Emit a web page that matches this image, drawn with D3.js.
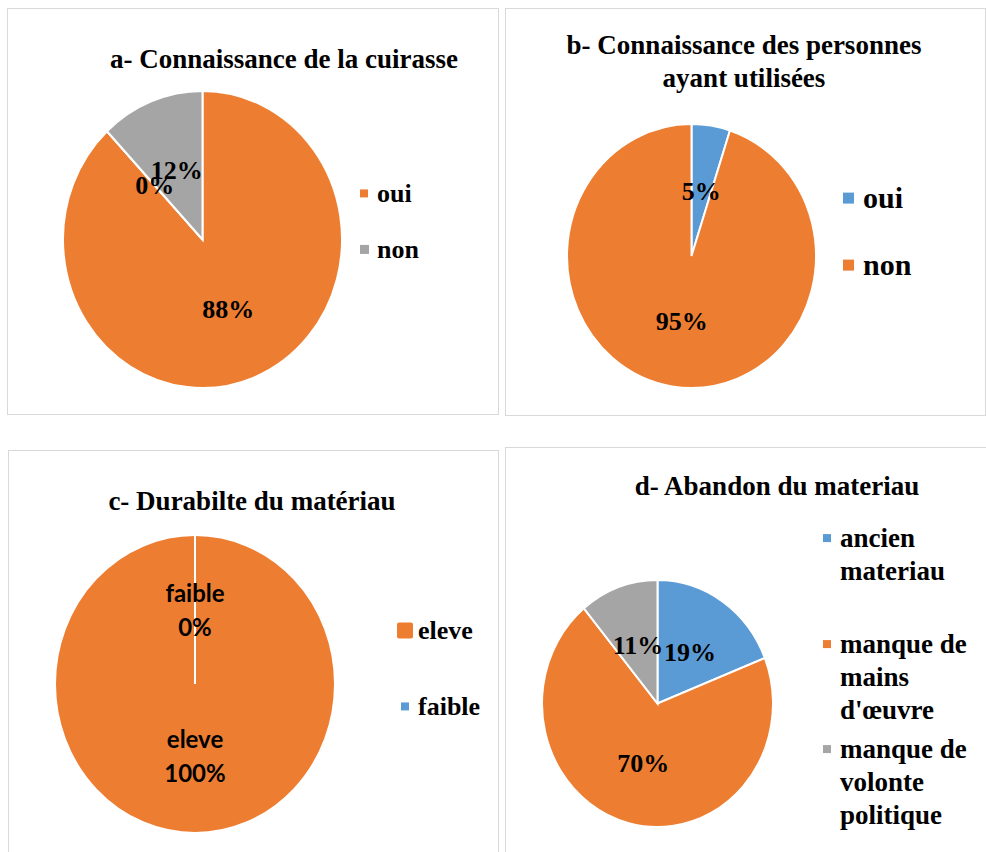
<!DOCTYPE html>
<html>
<head>
<meta charset="utf-8">
<script src="https://cdn.jsdelivr.net/npm/d3@7"></script>
<style>
  html, body { margin: 0; padding: 0; background: #ffffff; }
  svg { display: block; }
</style>
</head>
<body>
<svg id="chart" width="986" height="852"></svg>
<script>
// ---------------- DATA ----------------
const titleA = ["a- Connaissance de la cuirasse"];
const catA = ["oui", "", "non"];
const valA = [88, 0, 12];

const titleB = ["b- Connaissance des personnes", "ayant utilisées"];
const catB = ["oui", "non"];
const valB = [5, 95];

const titleC = ["c- Durabilte du matériau"];
const catC = ["eleve", "faible"];
const valC = [100, 0];

const titleD = ["d- Abandon du materiau"];
const catD = ["ancien materiau", "manque de mains d'œuvre", "manque de volonte politique"];
const valD = [19, 70, 11];
const legendLinesD = [["ancien", "materiau"], ["manque de", "mains", "d'œuvre"], ["manque de", "volonte", "politique"]];

// ---------------- STYLE ----------------
const colorMap = {
  "oui_a": "#ED7D31", "_a": "#ED7D31", "non_a": "#A5A5A5",
  "oui_b": "#5B9BD5", "non_b": "#ED7D31",
  "eleve_c": "#ED7D31", "faible_c": "#5B9BD5",
  "ancien materiau_d": "#5B9BD5", "manque de mains d'œuvre_d": "#ED7D31", "manque de volonte politique_d": "#A5A5A5"
};
const serif = "'Liberation Serif', 'Times New Roman', serif";
const sans = "Lato, 'Noto Sans', sans-serif";

const svg = d3.select("#chart");

const panels = [
  {key: "a", title: titleA, cats: catA, vals: valA, rect: [7.5, 8.5, 491, 406],
   titleX: 284, titleY: [68], cx: 202.5, cy: 239.5, rx: 139.5, ry: 148.5, labelR: 1,
   legend: {x: 360, tx: 377, font: 26, items: [{name: "oui", lines: ["oui"], y: 202, size: 8}, {name: "non", lines: ["non"], y: 258, size: 9}]}},
  {key: "b", title: titleB, cats: catB, vals: valB, rect: [505.5, 8.5, 480, 407],
   titleX: 744, titleY: [54, 87], cx: 691.5, cy: 256, rx: 124.5, ry: 132, labelR: 1,
   legend: {x: 843, tx: 863, font: 30, items: [{name: "oui", lines: ["oui"], y: 208, size: 11}, {name: "non", lines: ["non"], y: 275, size: 11}]}},
  {key: "c", title: titleC, cats: catC, vals: valC, rect: [8.5, 450.5, 490, 420],
   titleX: 252, titleY: [510], cx: 195, cy: 684, rx: 140, ry: 149, labelR: 0.98, sansLabels: true,
   legend: {x: 397, tx: 418, font: 26, items: [{name: "eleve", lines: ["eleve"], y: 639, size: 16, round: true}, {name: "faible", lines: ["faible"], y: 715, size: 8, dx: 4}]}},
  {key: "d", title: titleD, cats: catD, vals: valD, rect: [505.5, 447.5, 490, 420],
   titleX: 777, titleY: [495], cx: 657.5, cy: 703.5, rx: 115.5, ry: 123.5, labelR: 1,
   legend: {x: 823, tx: 840, font: 27, lh: 33, items: catD.map((c, i) => ({name: c, lines: legendLinesD[i], y: [547, 653, 758][i], size: 8}))}}
];

panels.forEach(p => {
  const g = svg.append("g");
  g.append("rect")
    .attr("x", p.rect[0]).attr("y", p.rect[1]).attr("width", p.rect[2]).attr("height", p.rect[3])
    .attr("fill", "#fff").attr("stroke", "#d9d9d9").attr("stroke-width", 1);

  // title
  p.title.forEach((t, i) => {
    g.append("text").attr("x", p.titleX).attr("y", p.titleY[i])
      .attr("text-anchor", "middle").attr("font-family", serif)
      .attr("font-weight", "bold").attr("font-size", 27).attr("fill", "#000").text(t);
  });

  const data = p.cats.map((c, i) => ({name: c, value: p.vals[i]}));
  const pie = d3.pie().sort(null).value(d => d.value);
  const arcs = pie(data);
  const k = p.ry / p.rx;
  const arc = d3.arc().innerRadius(0).outerRadius(p.rx);
  const labelArc = d3.arc().innerRadius(0).outerRadius(p.rx * p.labelR);

  const pg = g.append("g").attr("transform", `translate(${p.cx},${p.cy}) scale(1,${k})`);
  pg.selectAll("path").data(arcs).enter().append("path")
    .attr("d", arc)
    .attr("fill", d => colorMap[d.data.name + "_" + p.key])
    .attr("stroke", "#fff").attr("stroke-width", 2)
    .attr("vector-effect", "non-scaling-stroke");

  // labels
  const lg = g.append("g").attr("transform", `translate(${p.cx},${p.cy})`);
  arcs.forEach(a => {
    const [x, y] = labelArc.centroid(a);
    const pct = a.data.value + "%";
    if (p.sansLabels) {
      const t = lg.append("text").attr("x", x).attr("y", y * k)
        .attr("text-anchor", "middle").attr("font-family", sans)
        .attr("font-weight", "bold").attr("font-size", 24).attr("fill", "#000");
      t.append("tspan").attr("x", x).attr("dy", -9).text(a.data.name);
      t.append("tspan").attr("x", x).attr("dy", 34).text(pct);
    } else {
      lg.append("text").attr("x", x).attr("y", y * k + 9)
        .attr("text-anchor", "middle").attr("font-family", serif)
        .attr("font-weight", "bold").attr("font-size", 26).attr("fill", "#000").text(pct);
    }
  });

  // legend
  const L = p.legend;
  L.items.forEach(it => {
    const col = colorMap[it.name + "_" + p.key];
    const s = it.size;
    const mx = L.x + (it.dx || 0);
    g.append("rect").attr("x", mx).attr("y", it.y - L.font * 0.33 - s / 2)
      .attr("width", s).attr("height", s).attr("fill", col)
      .attr("rx", it.round ? 2 : 0);
    it.lines.forEach((ln, j) => {
      g.append("text").attr("x", L.tx).attr("y", it.y + j * (L.lh || 0))
        .attr("font-family", serif).attr("font-weight", "bold")
        .attr("font-size", L.font).attr("fill", "#000").text(ln);
    });
  });
});
</script>
</body>
</html>
